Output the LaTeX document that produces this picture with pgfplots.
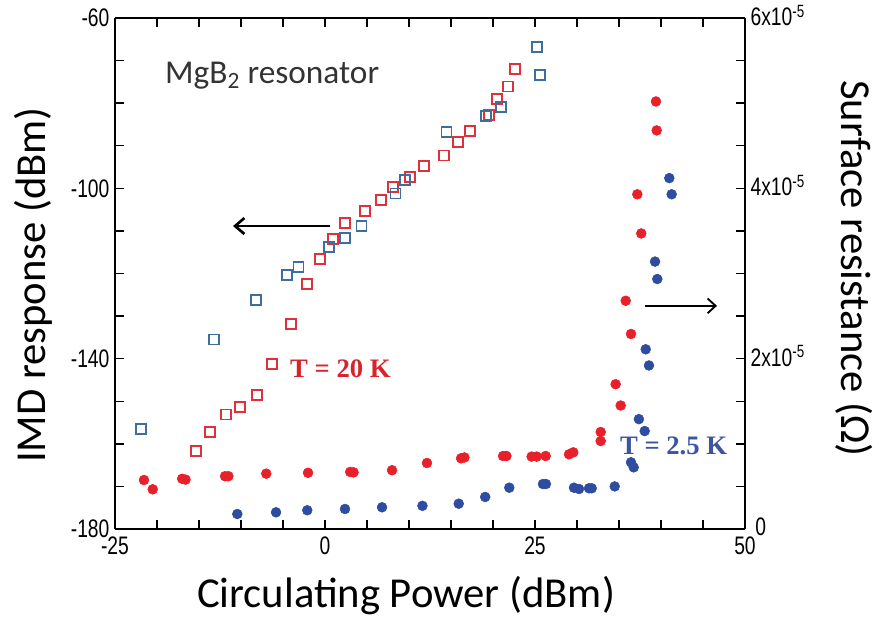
\documentclass[border=0pt]{standalone}
\usepackage{pgfplots}
\pgfplotsset{compat=1.18}
\usepackage{fontspec}
\setmainfont{Liberation Sans}
\newfontfamily\calib{Carlito}
\newfontfamily\tnr{Liberation Serif}
\newfontfamily\tickf[FakeStretch=0.76]{Liberation Sans}
\usetikzlibrary{arrows.meta}
\definecolor{redsq}{HTML}{E0313B}
\definecolor{bluesq}{HTML}{3E6E9E}
\definecolor{redc}{HTML}{E8202A}
\definecolor{bluec}{HTML}{2E4DA0}
\definecolor{redt}{HTML}{D7232B}
\definecolor{bluet}{HTML}{3C55A0}
\newcommand{\tickfont}{\tickf\fontsize{19}{19}\selectfont}
\pgfplotsset{
  common/.style={
    at={(86.25pt,67.5pt)}, anchor=south west,
    scale only axis, width=472.5pt, height=383.25pt,
    xmin=-25, xmax=50,
    tick align=inside,
    major tick length=6.5pt, minor tick length=6.5pt,
    every tick/.style={black, line width=1pt},
    axis line style={line width=1.2pt},
    tick label style={font=\tickfont},
    xticklabel style={font=\tickfont, inner sep=2pt},
    yticklabel style={font=\tickfont, inner sep=4pt},
    clip=false,
  }
}
\begin{document}
\begin{tikzpicture}
\useasboundingbox (0,0) rectangle (659.25pt,464.25pt);
\begin{axis}[common,
  ymin=-180, ymax=-60,
  axis y line*=left,
  xtick={-25,0,25,50}, xticklabels={-25,0,25,50},
  minor xtick={-20,-15,-10,-5,5,10,15,20,30,35,40,45},
  ytick={-180,-140,-100,-60}, yticklabels={-180,-140,-100,-60},
  minor ytick={-170,-160,-150,-130,-120,-110,-90,-80,-70},
  xticklabel style={font=\tickfont, inner sep=2pt, yshift=-4pt},
]
\addplot[only marks, mark=square, mark size=3.75pt, redsq, line width=1.4pt] coordinates {
(-15.39,-161.6) (-13.69,-157.2) (-11.75,-153.1) (-10.08,-151.4) (-8.06,-148.6)
(-6.31,-141.2) (-4.01,-131.8) (-2.11,-122.5) (-0.60,-116.5) (0.99,-111.9)
(2.38,-108.2) (4.76,-105.3) (6.63,-102.7) (8.06,-99.6) (10.12,-97.3)
(11.79,-94.8) (14.17,-92.3) (15.87,-89.1) (17.26,-86.5) (19.56,-82.8)
(20.44,-79.1) (21.82,-76.1) (22.62,-72.0)
};
\addplot[only marks, mark=square, mark size=3.75pt, bluesq, line width=1.4pt] coordinates {
(-21.87,-156.6) (-13.25,-135.5) (-8.21,-126.2) (-4.56,-120.4) (-3.15,-118.4)
(0.45,-113.7) (2.35,-111.6) (4.35,-108.8) (8.40,-101.2) (9.50,-98.0)
(14.46,-86.7) (19.17,-83.1) (20.95,-80.9) (25.27,-66.9) (25.6,-73.4)
};
\node[anchor=base west, font=\calib\fontsize{25}{25}\selectfont, text=black!80, inner sep=0pt]
  at (axis cs:-19.05,-75.3) {MgB\textsubscript{2} resonator};
\node[anchor=base west, font=\tnr\bfseries\fontsize{20}{20}\selectfont, text=redt, inner sep=0pt]
  at (axis cs:-4.17,-144.5) {T = 20 K};
\node[anchor=base west, font=\tnr\bfseries\fontsize{20}{20}\selectfont, text=bluet, inner sep=0pt]
  at (axis cs:35.1,-162.6) {T = 2.5 K};
\draw[line width=2.2pt, -{Straight Barb[length=7pt,width=12pt,line width=2pt]}]
  (axis cs:0.6,-108.85) -- (axis cs:-10.95,-108.85);
\draw[line width=1.5pt, -{Straight Barb[length=6pt,width=11pt,line width=1.4pt]}]
  (axis cs:38.1,-127.6) -- (axis cs:46.67,-127.6);
\end{axis}
\begin{axis}[common,
  ymin=0, ymax=6,
  axis y line*=right, axis x line=none,
  ytick={0,2,4,6},
  yticklabels={{},2x10\textsuperscript{-5},4x10\textsuperscript{-5},6x10\textsuperscript{-5}},
  minor ytick={0.5,1,1.5,2.5,3,3.5,4.5,5,5.5},
  yticklabel style={font=\tickfont, inner sep=4pt, yshift=2pt},
]
\addplot[only marks, mark=*, mark size=3.7pt, redc, mark options={draw=redc, fill=redc}] coordinates {
(-21.55,0.575) (-20.51,0.466) (-17.0,0.59) (-16.6,0.58) (-11.9,0.62) (-11.5,0.62)
(-6.99,0.65) (-2.02,0.66) (3.0,0.67) (3.4,0.665) (7.98,0.69) (12.14,0.775)
(16.2,0.83) (16.6,0.84) (21.2,0.857) (21.6,0.857) (24.6,0.85) (25.2,0.85)
(26.27,0.857) (29.05,0.877) (29.56,0.90) (32.82,1.033) (32.82,1.139)
(34.6,1.70) (35.2,1.45) (35.8,2.68) (36.43,2.29) (37.18,3.93) (37.65,3.47)
(39.4,5.02) (39.49,4.68)
};
\addplot[only marks, mark=*, mark size=3.7pt, bluec, mark options={draw=bluec, fill=bluec}] coordinates {
(-10.44,0.176) (-5.83,0.196) (-2.11,0.22) (2.38,0.235) (6.79,0.255) (11.6,0.272)
(15.92,0.297) (19.07,0.376) (21.94,0.485) (25.95,0.528) (26.3,0.528)
(29.64,0.485) (30.24,0.47) (31.43,0.478) (31.75,0.478) (34.49,0.50)
(36.43,0.783) (36.75,0.724) (37.37,1.29) (38.06,1.15) (38.18,2.11) (38.57,1.92)
(39.29,3.14) (39.56,2.935) (40.99,4.12) (41.27,3.93)
};
\node[anchor=base west, font=\tickfont, inner sep=0pt, xshift=7.5pt, yshift=-5pt]
  at (axis cs:50,0) {0};
\end{axis}
\node[anchor=base, rotate=90, font=\calib\fontsize{32}{32}\selectfont, inner sep=0pt]
  at (33.75pt,250.5pt) {IMD response (dBm)};
\node[anchor=base, rotate=-90, font=\calib\fontsize{32}{32}\selectfont, inner sep=0pt]
  at (630.75pt,262.9pt) {Surface resistance (Ω)};
\node[anchor=base, font=\calib\fontsize{32}{32}\selectfont, inner sep=0pt]
  at (304.5pt,9pt) {Circulating Power (dBm)};
\end{tikzpicture}
\end{document}
